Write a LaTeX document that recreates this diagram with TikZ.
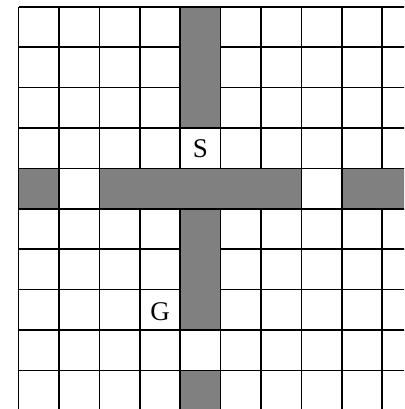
\documentclass[tikz,border=0pt]{standalone}
\usepackage{fontspec}
\setmainfont{Liberation Serif}
\definecolor{cellgray}{RGB}{128,128,128}
\begin{document}
\begin{tikzpicture}[
  gridline/.style={line width=1.5pt, black},
  wall/.style={fill=cellgray, draw=none},
  lbl/.style={font=\fontsize{27}{27}\selectfont, inner sep=0pt}
]
\useasboundingbox (0,0) rectangle (404pt,-409pt);
\clip (0,0) rectangle (404pt,-409pt);
\begin{scope}[shift={(18.6pt,-6.8pt)}, x=40.4pt, y=-40.4pt]
  % grid
  \foreach \k in {0,...,10} {
    \draw[gridline] (\k,0) -- (\k,10.2);
    \draw[gridline] (0,\k) -- (10.2,\k);
  }
  % walls (inset so outer borders stay visible)
  \def\e{0.019}
  \fill[wall] (4+\e,0+\e) rectangle (5-\e,3-\e);
  \fill[wall] (0+\e,4+\e) rectangle (1-\e,5-\e);
  \fill[wall] (2+\e,4+\e) rectangle (7-\e,5-\e);
  \fill[wall] (8+\e,4+\e) rectangle (10.5,5-\e);
  \fill[wall] (4+\e,5+\e) rectangle (5-\e,8-\e);
  \fill[wall] (4+\e,9+\e) rectangle (5-\e,10.5);
  % labels
  \node[lbl] (S) at (4.5,3.52) {S};
  \node[lbl] (G) at (3.5,7.55) {G};
\end{scope}
\end{tikzpicture}
\end{document}
